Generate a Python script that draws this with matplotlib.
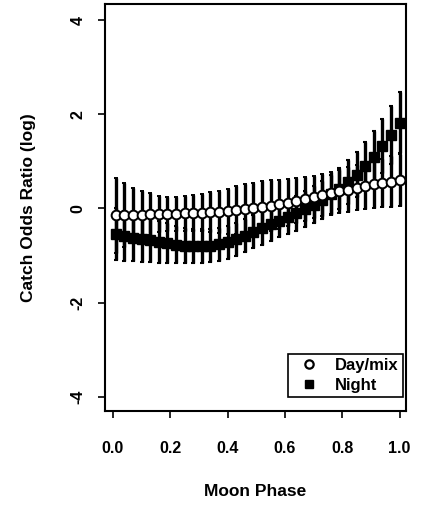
"""Moon phase vs catch odds ratio (log), day/mix and night sets with error bars."""

import matplotlib

matplotlib.use("Agg")
import matplotlib.pyplot as plt
from matplotlib.lines import Line2D

# Values.
moon_phase = [
    0.01, 0.04, 0.07, 0.10, 0.13, 0.16, 0.19, 0.22, 0.25, 0.28, 0.31, 0.34,
    0.37, 0.40, 0.43, 0.46, 0.49, 0.52, 0.55, 0.58, 0.61, 0.64, 0.67, 0.70,
    0.73, 0.76, 0.79, 0.82, 0.85, 0.88, 0.91, 0.94, 0.97, 1.00,
]
day_mean = [
    -0.15, -0.15, -0.14, -0.13, -0.12, -0.12, -0.11, -0.11, -0.10, -0.10,
    -0.09, -0.08, -0.07, -0.06, -0.04, -0.02, 0.00, 0.03, 0.06, 0.09,
    0.12, 0.16, 0.20, 0.24, 0.28, 0.32, 0.36, 0.40, 0.44, 0.48,
    0.51, 0.54, 0.57, 0.60,
]
day_err = [
    0.80, 0.68, 0.58, 0.50, 0.44, 0.38, 0.36, 0.36, 0.37, 0.38,
    0.40, 0.42, 0.45, 0.48, 0.51, 0.54, 0.55, 0.55, 0.54, 0.52,
    0.50, 0.48, 0.46, 0.45, 0.45, 0.45, 0.46, 0.47, 0.48, 0.50,
    0.51, 0.52, 0.54, 0.55,
]
night_mean = [
    -0.55, -0.58, -0.62, -0.65, -0.68, -0.71, -0.74, -0.77, -0.79, -0.80,
    -0.80, -0.79, -0.76, -0.72, -0.66, -0.58, -0.50, -0.42, -0.34, -0.26,
    -0.18, -0.10, -0.02, 0.08, 0.18, 0.30, 0.42, 0.56, 0.72, 0.90,
    1.10, 1.32, 1.56, 1.82,
]
night_err = [
    0.55, 0.53, 0.50, 0.48, 0.46, 0.44, 0.42, 0.40, 0.38, 0.37,
    0.36, 0.35, 0.35, 0.35, 0.35, 0.35, 0.35, 0.35, 0.35, 0.35,
    0.36, 0.37, 0.38, 0.39, 0.40, 0.42, 0.44, 0.46, 0.48, 0.51,
    0.54, 0.57, 0.61, 0.65,
]
x_ticks = [0.0, 0.2, 0.4, 0.6, 0.8, 1.0]
y_ticks = [-4, -2, 0, 2, 4]

plt.rcParams.update(
    {
        "font.family": ["Liberation Sans", "DejaVu Sans"],
        "font.weight": "bold",
        "axes.labelweight": "bold",
        "font.size": 11,
    }
)

fig = plt.figure(figsize=(4.37, 5.11), dpi=100)
ax = fig.add_axes([0.240, 0.196, 0.689, 0.796])

ax.errorbar(
    moon_phase, night_mean, yerr=night_err,
    fmt="s", color="black", markersize=7,
    elinewidth=2.4, capsize=1.5, capthick=1.5, zorder=3,
)
ax.errorbar(
    moon_phase, day_mean, yerr=day_err,
    fmt="o", color="black", markerfacecolor="white", markeredgecolor="black",
    markeredgewidth=1.4, markersize=7, ecolor="black",
    elinewidth=2.4, capsize=1.5, capthick=1.5, zorder=4,
)

ax.set_xlim(-0.028, 1.022)
ax.set_ylim(-4.3, 4.34)
ax.set_xticks(x_ticks, [f"{t:.1f}" for t in x_ticks])
ax.set_yticks(y_ticks, [str(t) for t in y_ticks])
for label in ax.get_yticklabels():
    label.set_rotation(90)
    label.set_va("center")
ax.tick_params(direction="out", length=5, width=1.2, labelsize=11.5)
ax.tick_params(axis="x", pad=17)
ax.tick_params(axis="y", pad=9)
for spine in ax.spines.values():
    spine.set_linewidth(1.5)

ax.set_xlabel("Moon Phase", fontsize=12.5, labelpad=20)
ax.set_ylabel("Catch Odds Ratio (log)", fontsize=12.5, labelpad=25)

legend_handles = [
    Line2D([], [], linestyle="none", marker="o", markersize=6,
           markerfacecolor="white", markeredgecolor="black",
           markeredgewidth=1.6),
    Line2D([], [], linestyle="none", marker="s", markersize=6,
           color="black"),
]
legend = ax.legend(
    legend_handles, ["Day/mix", "Night"],
    loc="lower right", bbox_to_anchor=(0.99, 0.034), borderaxespad=0,
    fancybox=False, edgecolor="black", framealpha=1,
    handlelength=2.1, handletextpad=0.5, labelspacing=0.3, borderpad=0.25,
    fontsize=12,
)
legend.get_frame().set_linewidth(1.2)

fig.savefig("out.png", dpi=100)
